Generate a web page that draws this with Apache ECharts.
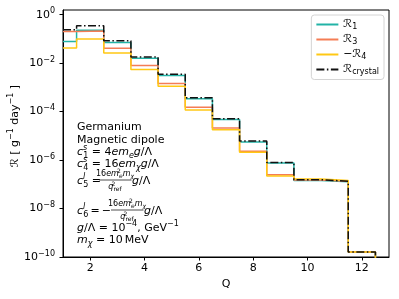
<!DOCTYPE html>
<html><head><meta charset="utf-8">
<script src="https://cdn.jsdelivr.net/npm/echarts@6/dist/echarts.min.js"></script>
<style>html,body{margin:0;padding:0;background:#fff}#c{width:399px;height:299px}</style>
</head><body><div id="c"></div>
<script>
// ---- data ----
const binEdges = [1, 1.5, 2.5, 3.5, 4.5, 5.5, 6.5, 7.5, 8.5, 9.5, 10.5, 11.5, 12.5];
const xTicks = [2, 4, 6, 8, 10, 12];
const yTicks = [1e-10, 1e-8, 1e-6, 1e-4, 1e-2, 1];
const floorValue = 1e-12; // stands for zero below the log axis
const r1 = [0.079, 0.23, 0.071, 0.016, 0.0031, 3.4e-4, 4.7e-5, 5.6e-6, 7.6e-7, 1.45e-7, 1.28e-7, 1.6e-10];
const r3 = [0.20, 0.21, 0.041, 0.0080, 0.00145, 1.5e-4, 2.1e-5, 2.3e-6, 2.5e-7, 1.5e-7, 1.35e-7, 1.6e-10];
const minusR4 = [0.042, 0.10, 0.026, 0.0055, 0.0011, 1.17e-4, 1.8e-5, 2.1e-6, 2.2e-7, 1.65e-7, 1.45e-7, 1.6e-10];
const crystal = [0.24, 0.35, 0.083, 0.018, 0.0035, 3.7e-4, 5.1e-5, 6.1e-6, 8.0e-7, 1.55e-7, 1.32e-7, 1.6e-10];
const seriesNames = ['R1', 'R3', 'mR4', 'Rc'];

const FONT = 'DejaVu Sans';
function steps(vals) {
  return binEdges.map((x, i) => [x, i < vals.length ? vals[i] : floorValue]);
}
const rich = {
  n: {fontFamily: FONT, fontSize: 11, lineHeight: 16, color: '#000'},
  i: {fontFamily: FONT, fontSize: 11, lineHeight: 16, fontStyle: 'italic', color: '#000'},
  s: {fontFamily: FONT, fontSize: 11, lineHeight: 16, fontStyle: 'italic', color: '#000'},
  sb: {fontFamily: FONT, fontSize: 8, lineHeight: 8, verticalAlign: 'bottom', fontStyle: 'italic', color: '#000'},
  sbn: {fontFamily: FONT, fontSize: 8, lineHeight: 8, verticalAlign: 'bottom', color: '#000'},
  sup: {fontFamily: FONT, fontSize: 8, lineHeight: 8, verticalAlign: 'top', color: '#000'},
  supz: {fontFamily: FONT, fontSize: 8, lineHeight: 8, verticalAlign: 'top', fontStyle: 'italic', color: '#000', width: 0.1},
  fn: {fontFamily: FONT, fontSize: 8, lineHeight: 11, color: '#000'},
  fi: {fontFamily: FONT, fontSize: 8, lineHeight: 11, fontStyle: 'italic', color: '#000'},
  fsupz: {fontFamily: FONT, fontSize: 6, lineHeight: 6, verticalAlign: 'top', color: '#000', width: 0.1},
  fsb: {fontFamily: FONT, fontSize: 6, lineHeight: 6, verticalAlign: 'bottom', fontStyle: 'italic', color: '#000'},
  fsbn: {fontFamily: FONT, fontSize: 6, lineHeight: 6, verticalAlign: 'bottom', color: '#000'}
};
const legendRich = {
  n: {fontFamily: FONT, fontSize: 11, lineHeight: 12, color: '#000'},
  s: {fontFamily: FONT, fontSize: 11, lineHeight: 12, fontStyle: 'italic', color: '#000'},
  sbn: {fontFamily: FONT, fontSize: 8, lineHeight: 5, verticalAlign: 'bottom', color: '#000'}
};
const legendLabels = {
  R1: '{s|ℛ}{sbn|1}',
  R3: '{s|ℛ}{sbn|3}',
  mR4: '{n|−}{s|ℛ}{sbn|4}',
  Rc: '{s|ℛ}{sbn|crystal}'
};
function txt(x, y, text, extra) {
  return {type: 'text', z: 100, style: Object.assign({x: x, y: y, text: text, rich: rich,
    verticalAlign: 'middle', align: 'left', fill: '#000', font: '11px ' + FONT}, extra || {})};
}
const fracNum = '{fn|16}{fi|em}{fsupz|2}{fsb|e}{fi|m}{fsb|χ}';
const fracDen = '{fi|q}{fsupz|2}{fsbn|ref}';

const chart = echarts.init(document.getElementById('c'), null, {renderer: 'canvas'});
const lw = 1.5;
const option = {
  animation: false,
  backgroundColor: '#fff',
  grid: {left: 63, top: 10, right: 10, bottom: 42, show: true, borderColor: '#000', borderWidth: 1, backgroundColor: 'transparent'},
  xAxis: {
    type: 'value', min: 1, max: 13,
    axisLine: {lineStyle: {color: '#000', width: 1}},
    axisTick: {customValues: xTicks, length: 3.5, lineStyle: {color: '#000'}},
    axisLabel: {customValues: xTicks, color: '#000', fontFamily: FONT, fontSize: 11, margin: 6},
    splitLine: {show: false},
    name: 'Q', nameLocation: 'middle', nameGap: 18,
    nameTextStyle: {color: '#000', fontFamily: FONT, fontSize: 11}
  },
  yAxis: {
    type: 'log', logBase: 10, min: 1e-10, max: 1.56,
    axisLine: {show: true, lineStyle: {color: '#000', width: 1}},
    axisTick: {show: true, customValues: yTicks, length: 3.5, lineStyle: {color: '#000'}},
    axisLabel: {
      customValues: yTicks, margin: 8, color: '#000',
      formatter: function (v) {
        const e = Math.round(Math.log10(v));
        return '{b|10}{e|' + (e < 0 ? '−' + (-e) : e) + '}';
      },
      rich: {
        b: {fontFamily: FONT, fontSize: 11, lineHeight: 15, color: '#000'},
        e: {fontFamily: FONT, fontSize: 8, lineHeight: 8, verticalAlign: 'top', color: '#000'}
      }
    },
    splitLine: {show: false}
  },
  legend: {
    orient: 'vertical', right: 15, top: 15,
    backgroundColor: '#fff', borderColor: '#d4d4d4', borderWidth: 1, borderRadius: 3,
    padding: [4, 5, 4, 4], itemWidth: 22, itemHeight: 10, itemGap: 3.5,
    itemStyle: {opacity: 0},
    data: seriesNames,
    formatter: function (name) { return legendLabels[name]; },
    textStyle: {rich: legendRich}
  },
  series: [
    {name: 'R1', type: 'line', step: 'end', symbol: 'none', showSymbol: false, data: steps(r1), lineStyle: {color: '#22b3a6', width: lw}, itemStyle: {color: '#22b3a6'}, z: 2},
    {name: 'R3', type: 'line', step: 'end', symbol: 'none', showSymbol: false, data: steps(r3), lineStyle: {color: '#f47d55', width: lw}, itemStyle: {color: '#f47d55'}, z: 3},
    {name: 'mR4', type: 'line', step: 'end', symbol: 'none', showSymbol: false, data: steps(minusR4), lineStyle: {color: '#ffc814', width: lw}, itemStyle: {color: '#ffc814'}, z: 4},
    {name: 'Rc', type: 'line', step: 'end', symbol: 'none', showSymbol: false, data: steps(crystal), lineStyle: {color: '#111', width: lw, type: [8, 2.5, 1.5, 2.5]}, itemStyle: {color: '#111'}, z: 5}
  ],
  graphic: [
    {type: 'text', z: 100, x: 15, y: 126, rotation: Math.PI / 2,
     style: {x: 0, y: 0, text: '{s|ℛ}{n| [ g}{sup|−1}{n| day}{sup|−1}{n| ]}', rich: rich, align: 'center', verticalAlign: 'middle'}},
    txt(77, 127, '{n|Germanium}'),
    txt(77, 140, '{n|Magnetic dipole}'),
    txt(77, 152, '{i|c}{supz|s}{sbn|1}{n| = 4}{i|em}{sb|e}{i|g}{n|/Λ}'),
    txt(77, 164, '{i|c}{supz|s}{sbn|4}{n| = 16}{i|em}{sb|χ}{i|g}{n|/Λ}'),
    txt(77, 181, '{i|c}{supz|l}{sbn|5}{n| =}'),
    txt(115, 174, fracNum, {align: 'center'}),
    {type: 'line', z: 100, shape: {x1: 99, y1: 180, x2: 131.5, y2: 180}, style: {stroke: '#000', lineWidth: 0.7}},
    txt(115, 186.5, fracDen, {align: 'center'}),
    txt(132, 181, '{i|g}{n|/Λ}'),
    txt(77, 211, '{i|c}{supz|l}{sbn|6}{n|\u2009=\u2009−}'),
    txt(127, 204, fracNum, {align: 'center'}),
    {type: 'line', z: 100, shape: {x1: 111, y1: 210, x2: 143.5, y2: 210}, style: {stroke: '#000', lineWidth: 0.7}},
    txt(127, 216.5, fracDen, {align: 'center'}),
    txt(144, 211, '{i|g}{n|/Λ}'),
    txt(77, 228, '{i|g}{n|/Λ = 10}{sup|−4}{n|, GeV}{sup|−1}'),
    txt(77, 240, '{i|m}{sb|χ}{n| = 10\u2009MeV}')
  ]
};
chart.setOption(option);
</script></body></html>
